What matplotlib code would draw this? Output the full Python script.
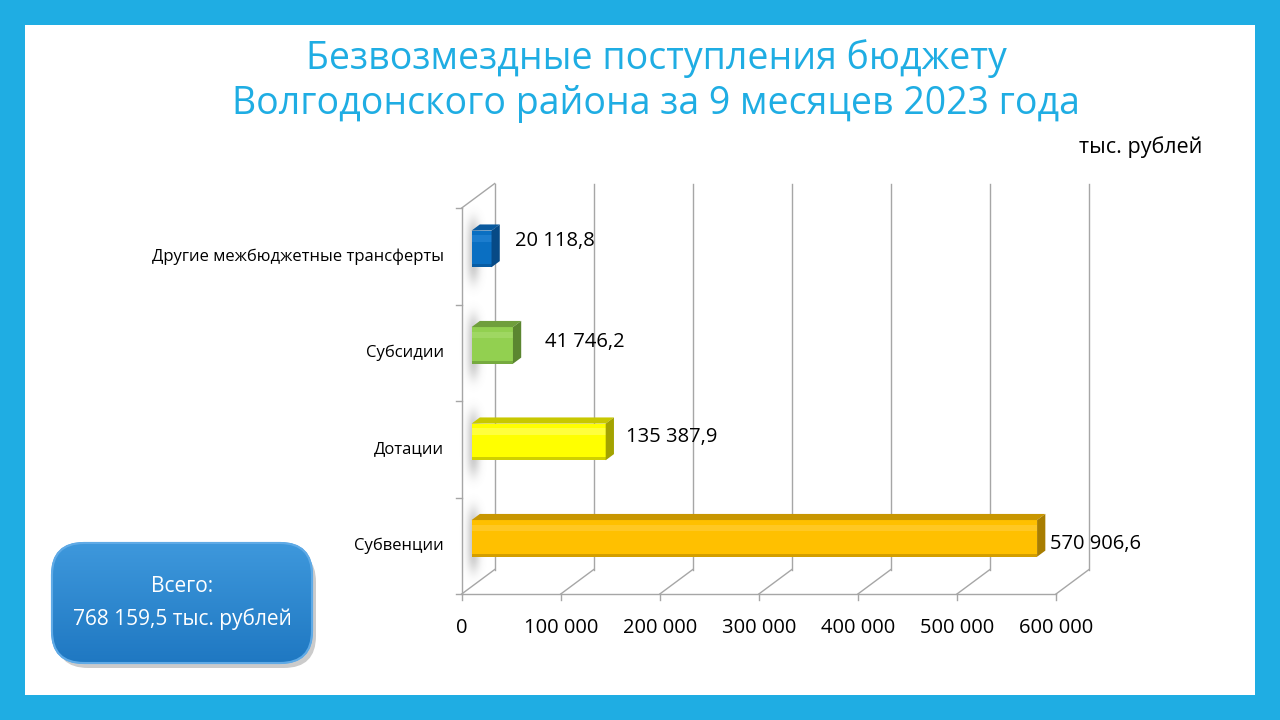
import numpy as np
import matplotlib
matplotlib.use("Agg")
import matplotlib.pyplot as plt
from matplotlib.patches import Polygon, Rectangle, FancyBboxPatch
from matplotlib.lines import Line2D
from matplotlib.colors import to_rgb

plt.rcParams['font.family'] = ['Open Sans', 'DejaVu Sans']

# данные
categories = ['Субвенции', 'Дотации', 'Субсидии', 'Другие межбюджетные трансферты']
values = [570906.6, 135387.9, 41746.2, 20118.8]
value_labels = ['570 906,6', '135 387,9', '41 746,2', '20 118,8']
x_ticks = [0, 100000, 200000, 300000, 400000, 500000, 600000]
x_tick_labels = ['0', '100 000', '200 000', '300 000', '400 000', '500 000', '600 000']
title = 'Безвозмездные поступления бюджету\nВолгодонского района за 9 месяцев 2023 года'
unit_text = 'тыс. рублей'
total_text = 'Всего:\n768 159,5 тыс. рублей'

# цвета граней: фронт, блик, верх, бок
bar_colors = [
    ('#FFC000', '#FFD040', '#C89600', '#A87D00'),
    ('#FFFF00', '#FFFF70', '#C8C800', '#A3A300'),
    ('#92D050', '#AADD72', '#6F9E3C', '#5B8630'),
    ('#0A6FC2', '#2B8AD8', '#0A5A9E', '#074A86'),
]
label_dx = [3, 10, 22, 13]
label_dy = [-12, -1, -3, 2]

W, H = 1280, 720
BLUE = '#1FADE3'
GRID = '#A6A6A6'

fig = plt.figure(figsize=(W / 100, H / 100), dpi=100)
fig.patch.set_facecolor(BLUE)
fig.add_artist(Rectangle((25 / W, 25 / H), 1230 / W, 670 / H,
                         transform=fig.transFigure, facecolor='white', edgecolor='none', zorder=0))

ax = fig.add_axes([461.7 / W, 126 / H, 594.3 / W, 386 / H])
ax.set_xlim(0, 600000)
ax.set_ylim(-0.5, 3.5)
ax.axis('off')

DX, DY = 33.0, 24.5   # глубина 3D в пикселях
to_fig = fig.transFigure.inverted()


def P(v, c, d=0.0, ox=0.0, oy=0.0):
    x, y = ax.transData.transform((v, c))
    return (x + DX * d + ox, y + DY * d + oy)


def F(pts):
    return to_fig.transform(np.array(pts))


def line(p1, p2, color=GRID, lw=1.0, z=1):
    xy = F([p1, p2])
    fig.add_artist(Line2D(xy[:, 0], xy[:, 1], transform=fig.transFigure,
                          color=color, lw=lw, zorder=z))


def poly(pts, fc, z=3, alpha=1.0):
    fig.add_artist(Polygon(F(pts), closed=True, transform=fig.transFigure,
                           facecolor=fc, edgecolor='none', zorder=z, alpha=alpha))


ymin, ymax = -0.5, 3.5
# задняя стена и пол
for t in x_ticks:
    line(P(t, ymin, 1), P(t, ymax, 1))
    line(P(t, ymin, 0), P(t, ymin, 1))
    line(P(t, ymin, 0), P(t, ymin, 0, oy=-6))
line(P(0, ymin, 0), P(600000, ymin, 0))
# левая стена
line(P(0, ymin, 0), P(0, ymax, 0))
line(P(0, ymax, 0), P(0, ymax, 1))
for b in np.arange(ymin, ymax + 0.01, 1.0):
    line(P(0, b, 0), P(0, b, 0, ox=-6))

# столбцы
h = 0.19
d0, d1 = 0.3, 0.55
bar_px = h * 2 * 386 / 4
for i, (v, cols) in enumerate(zip(values, bar_colors)):
    c = i
    front, hi, top, side = cols
    # размытая тень на левой стене
    sx, sy = 6.5, bar_px / 2 + 13
    hw, hh = 18, int(sy + 18)
    gx, gy = np.meshgrid(np.arange(-hw, hw + 1), np.arange(-hh, hh + 1))
    a = 0.42 * np.exp(-(gx / sx) ** 2) * np.exp(-(np.abs(gy) / sy) ** 4)
    img = np.zeros(a.shape + (4,))
    img[..., :3] = 0.5
    img[..., 3] = a
    cx0, cy0 = P(0, c, 0.25, ox=4)
    fig.figimage(img, xo=int(cx0 - hw), yo=int(cy0 - hh), origin='lower', zorder=2)

    poly([P(0, c - h, d0), P(v, c - h, d0), P(v, c + h, d0), P(0, c + h, d0)], front, z=4)
    poly([P(0, c + h * 0.4, d0), P(v, c + h * 0.4, d0), P(v, c + h * 0.75, d0), P(0, c + h * 0.75, d0)],
         hi, z=4, alpha=0.55)
    poly([P(0, c - h, d0), P(v, c - h, d0), P(v, c - h * 0.85, d0), P(0, c - h * 0.85, d0)],
         side, z=4, alpha=0.5)
    poly([P(0, c + h, d0), P(v, c + h, d0), P(v, c + h, d1), P(0, c + h, d1)], top, z=4)
    poly([P(v, c - h, d0), P(v, c + h, d0), P(v, c + h, d1), P(v, c - h, d1)], side, z=4)

    lx, ly = F([P(v, c, d1, ox=label_dx[i] + 2, oy=label_dy[i])])[0]
    fig.text(lx, ly, value_labels[i], ha='left', va='center', fontsize=14.5, color='black', zorder=6)

    tx, ty = F([P(0, c, 0, ox=-18)])[0]
    fig.text(tx, ty, categories[i], ha='right', va='center', fontsize=12, color='black')

for t, lab in zip(x_ticks, x_tick_labels):
    tx, ty = F([P(t, ymin, 0, oy=-34)])[0]
    fig.text(tx, ty, lab, ha='center', va='center', fontsize=14.5, color='black')

# заголовок
fig.text(656 / W, 1 - 81 / H, title, ha='center', va='center', fontsize=27, color=BLUE,
         linespacing=1.25)
fig.text(1202 / W, 1 - 147 / H, unit_text, ha='right', va='center', fontsize=15.5, color='black')

# блок "Всего"
fig.add_artist(FancyBboxPatch((56 / W, 52 / H), 260 / W, 118 / H,
                              boxstyle='round,pad=0,rounding_size=0.025',
                              transform=fig.transFigure, facecolor='#555555', edgecolor='none',
                              alpha=0.3, zorder=2, mutation_aspect=W / H))
box = FancyBboxPatch((52 / W, 57 / H), 260 / W, 120 / H,
                     boxstyle='round,pad=0,rounding_size=0.025',
                     transform=fig.transFigure, facecolor='#2A8AD4', edgecolor='#5FAAE6',
                     lw=1.5, zorder=3, mutation_aspect=W / H)
fig.add_artist(box)
# градиент заливки
grad = np.linspace(0, 1, 120)[:, None, None]
c_top, c_bot = np.array(to_rgb('#3E98DC')), np.array(to_rgb('#1F78C2'))
gimg = np.ones((120, 260, 4))
gimg[..., :3] = c_bot * (1 - grad) + c_top * grad
gi = fig.figimage(gimg, xo=52, yo=57, origin='lower', zorder=3.5)
gi.set_clip_path(box)
fig.add_artist(FancyBboxPatch((52 / W, 57 / H), 260 / W, 120 / H,
                              boxstyle='round,pad=0,rounding_size=0.025',
                              transform=fig.transFigure, facecolor='none', edgecolor='#5FAAE6',
                              lw=1.5, zorder=3.8, mutation_aspect=W / H))
fig.text(182 / W, 1 - 603 / H, total_text, ha='center', va='center', fontsize=15, color='white',
         linespacing=1.6, zorder=5)

fig.savefig('out.png', dpi=100, facecolor=fig.get_facecolor())
